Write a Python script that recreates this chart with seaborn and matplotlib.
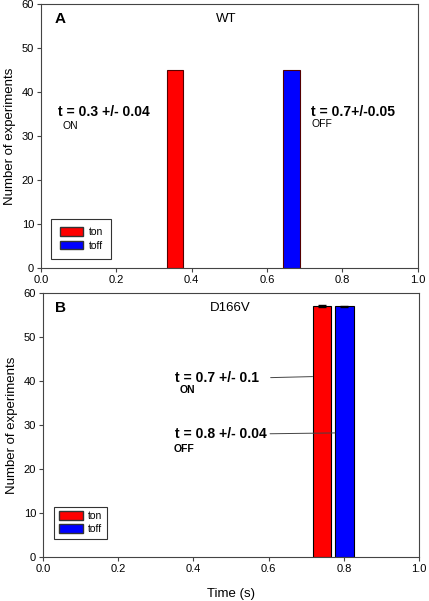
import pandas as pd
import matplotlib
matplotlib.use("Agg")
import matplotlib.pyplot as plt
import matplotlib.patches as mpatches
import seaborn as sns

# data
labels = ["ton", "toff"]
colors = ["#ff0000", "#0000ff"]

wt_time = [0.355, 0.665]
wt_count = [45, 45]
wt_width = 0.043

d166v_time = [0.741, 0.801]
d166v_count = [57, 57]
d166v_err = [0.25, 0.15]
d166v_width = 0.049

sns.set_style("ticks")
plt.rcParams["font.family"] = ["Liberation Sans", "DejaVu Sans"]
plt.rcParams["text.color"] = "black"
plt.rcParams["axes.labelcolor"] = "black"
plt.rcParams["axes.edgecolor"] = "#444444"
plt.rcParams["xtick.color"] = "#444444"
plt.rcParams["ytick.color"] = "#444444"
plt.rcParams["xtick.labelcolor"] = "black"
plt.rcParams["ytick.labelcolor"] = "black"

fig = plt.figure(figsize=(4.29, 6.01), dpi=100)
ax1 = fig.add_axes([0.0956, 0.554, 0.878, 0.439])
ax2 = fig.add_axes([0.1002, 0.0732, 0.877, 0.4393])


def draw_bars(ax, times, counts, width, edge):
    df = pd.DataFrame({"time": times, "count": counts, "label": labels})
    spacing = times[1] - times[0]
    sns.barplot(data=df, x="time", y="count", hue="label", palette=colors,
                saturation=1, native_scale=True, dodge=False,
                width=width / spacing, edgecolor=edge, linewidth=0.8,
                legend=False, ax=ax)


def style_axes(ax, leg_anchor, leg_spacing, leg_pad):
    ax.set_xlim(0, 1)
    ax.set_ylim(0, 60)
    ax.set_xticks([0.0, 0.2, 0.4, 0.6, 0.8, 1.0])
    ax.set_xticklabels(["0.0", "0.2", "0.4", "0.6", "0.8", "1.0"])
    ax.set_yticks(range(0, 61, 10))
    ax.tick_params(labelsize=8, length=3, width=0.8, pad=2)
    ax.set_ylabel("Number of experiments", fontsize=9.5, labelpad=4)
    ax.set_xlabel("")
    for s in ax.spines.values():
        s.set_visible(True)
        s.set_linewidth(0.8)
    handles = [mpatches.Patch(facecolor=c, edgecolor="#333333", label=l)
               for c, l in zip(colors, labels)]
    leg = ax.legend(handles=handles, loc="lower left", bbox_to_anchor=leg_anchor,
                    borderaxespad=0, fontsize=7.5, frameon=True, fancybox=False,
                    edgecolor="black", handlelength=2.3, handleheight=0.9,
                    borderpad=leg_pad, labelspacing=leg_spacing, handletextpad=0.5)
    leg.get_frame().set_linewidth(0.8)


# panel A
draw_bars(ax1, wt_time, wt_count, wt_width, "#550000")
style_axes(ax1, (0.027, 0.034), 0.35, 0.8)
ax1.text(0.035, 56.6, "A", fontsize=11, fontweight="bold", va="center")
ax1.text(0.464, 56.6, "WT", fontsize=9.5, va="center")
ax1.text(0.045, 35.5, "t = 0.3 +/- 0.04", fontsize=10, fontweight="bold", va="center")
ax1.text(0.056, 32.4, "ON", fontsize=7.5, va="center")
ax1.text(0.717, 35.5, "t = 0.7+/-0.05", fontsize=10, fontweight="bold", va="center")
ax1.text(0.717, 32.7, "OFF", fontsize=7.5, va="center")

# panel B
draw_bars(ax2, d166v_time, d166v_count, d166v_width, "black")
ax2.errorbar(d166v_time, d166v_count, yerr=d166v_err, fmt="none",
             ecolor="black", elinewidth=0.8, capsize=3)
style_axes(ax2, (0.029, 0.068), 0.3, 0.45)
ax2.set_xlabel("Time (s)", fontsize=9.5, labelpad=10)
ax2.text(0.032, 56.6, "B", fontsize=11, fontweight="bold", va="center")
ax2.text(0.444, 56.6, "D166V", fontsize=9.5, va="center")
ax2.annotate("t = 0.7 +/- 0.1", xy=(d166v_time[0] - d166v_width / 2, 41),
             xytext=(0.351, 40.7), fontsize=10, fontweight="bold", va="center",
             arrowprops=dict(arrowstyle="-", color="#444444", lw=0.7,
                             shrinkA=6, shrinkB=0, relpos=(1, 0.5)))
ax2.text(0.362, 37.9, "ON", fontsize=7.5, fontweight="bold", va="center")
ax2.annotate("t = 0.8 +/- 0.04", xy=(d166v_time[1] - d166v_width / 2, 28.2),
             xytext=(0.351, 28.0), fontsize=10, fontweight="bold", va="center",
             arrowprops=dict(arrowstyle="-", color="#444444", lw=0.7,
                             shrinkA=0, shrinkB=0, relpos=(1, 0.5)))
ax2.text(0.348, 24.5, "OFF", fontsize=7.5, fontweight="bold", va="center")

fig.savefig("out.png", dpi=100)
